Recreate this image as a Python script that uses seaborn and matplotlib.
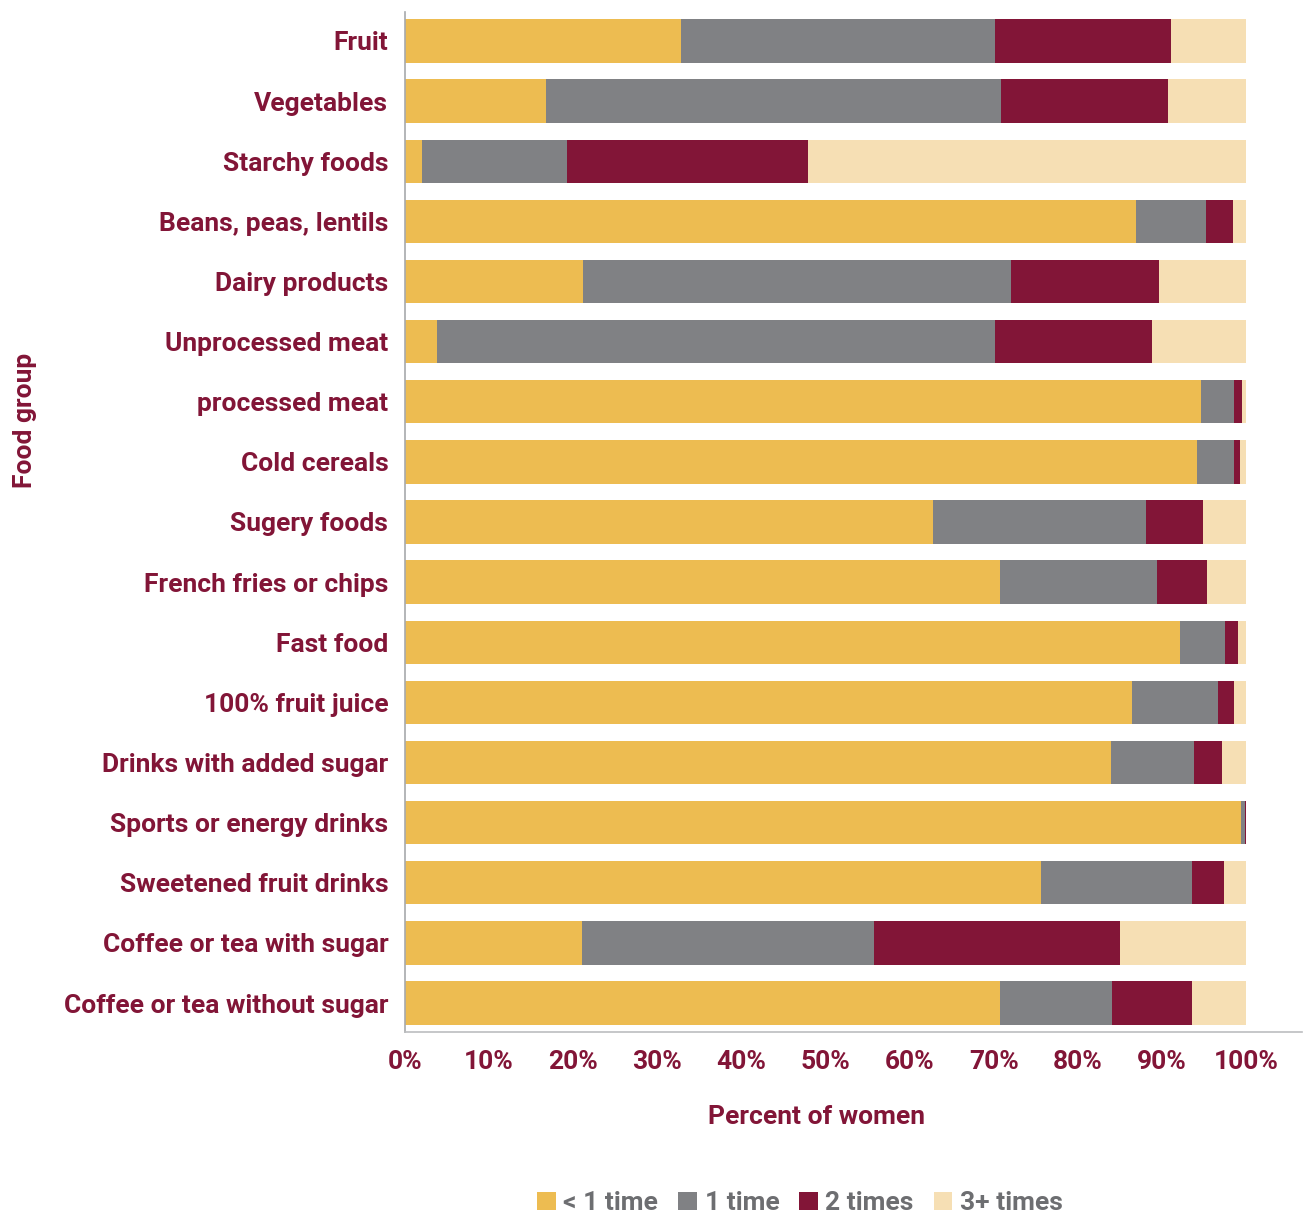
import matplotlib
matplotlib.use("Agg")
import matplotlib.pyplot as plt
import seaborn as sns
import pandas as pd
import numpy as np
from matplotlib.patches import Patch

categories = ["Fruit", "Vegetables", "Starchy foods", "Beans, peas, lentils", "Dairy products",
              "Unprocessed meat", "processed meat", "Cold cereals", "Sugery foods",
              "French fries or chips", "Fast food", "100% fruit juice", "Drinks with added sugar",
              "Sports or energy drinks", "Sweetened fruit drinks", "Coffee or tea with sugar",
              "Coffee or tea without sugar"]
less_1 = [32.8, 16.8, 2.0, 86.9, 21.2, 3.8, 94.6, 94.2, 62.8, 70.8, 92.2, 86.4, 83.9, 99.4, 75.6, 21.0, 70.8]
one_time = [37.4, 54.1, 17.3, 8.4, 50.9, 66.4, 4.0, 4.4, 25.3, 18.6, 5.3, 10.3, 9.9, 0.5, 18.0, 34.8, 13.3]
two_times = [20.9, 19.8, 28.6, 3.2, 17.6, 18.6, 0.9, 0.7, 6.8, 6.0, 1.5, 1.9, 3.3, 0.1, 3.8, 29.2, 9.5]
three_plus = [8.9, 9.3, 52.1, 1.5, 10.3, 11.2, 0.5, 0.7, 5.1, 4.6, 1.0, 1.4, 2.9, 0.0, 2.6, 15.0, 6.4]
series_names = ["< 1 time", "1 time", "2 times", "3+ times"]

colors = ["#EDBC51", "#808184", "#821537", "#F6DFB4"]
maroon = "#821537"
legend_gray = "#6D6E71"

sns.set_theme(style="white")
plt.rcParams['font.family'] = ['Roboto', 'DejaVu Sans']
plt.rcParams['font.weight'] = 'bold'
FS = 19

df = pd.DataFrame({"cat": categories, "a": less_1, "b": one_time, "c": two_times, "d": three_plus})
cum = df[["a", "b", "c", "d"]].cumsum(axis=1)

fig = plt.figure(figsize=(13.1, 12.18), dpi=100)
ax = fig.add_axes([405/1310, 1 - 1032/1218, (1302-405)/1310, (1032-12)/1218])

for col, color in zip(["d", "c", "b", "a"], colors[::-1]):
    sns.barplot(x=cum[col], y=df["cat"], orient="h", color=color, width=0.72,
                ax=ax, saturation=1, linewidth=0)

ax.set_xlim(0, (1302-405)/8.41)
ax.set_ylim(16.48, -0.48)
ax.set_xticks(np.arange(0, 101, 10))
ax.set_xticklabels([f"{v}%" for v in range(0, 101, 10)], fontsize=FS, color=maroon, fontweight='bold')
ax.set_yticks(range(len(categories)))
ax.set_yticklabels(categories, fontsize=FS, color=maroon, fontweight='bold', va='center_baseline')
ax.tick_params(axis='both', length=0)
ax.tick_params(axis='y', pad=12)
ax.tick_params(axis='x', pad=13)
ax.set_xlabel("")
ax.set_ylabel("")
for s in ["top", "right"]:
    ax.spines[s].set_visible(False)
ax.spines["left"].set_color("#A7A9AC")
ax.spines["bottom"].set_color("#BCBEC0")
ax.spines["left"].set_linewidth(1.2)
ax.spines["bottom"].set_linewidth(1.2)

fig.text(816/1310, 1 - 1117/1218, "Percent of women", ha="center", va="center",
         fontsize=FS, color=maroon, fontweight='bold')
fig.text(25/1310, 1 - 420/1218, "Food group", ha="center", va="center", rotation=90,
         fontsize=FS, color=maroon, fontweight='bold')

handles = [Patch(facecolor=c, edgecolor='none') for c in colors]
leg = fig.legend(handles, series_names, loc="center", bbox_to_anchor=(800/1310, 1 - 1203/1218),
                 ncol=4, frameon=False, fontsize=FS, handlelength=0.7, handleheight=0.7,
                 handletextpad=0.3, columnspacing=0.75)
for t in leg.get_texts():
    t.set_color(legend_gray)
    t.set_fontweight('bold')

fig.savefig("out.png", dpi=100)
